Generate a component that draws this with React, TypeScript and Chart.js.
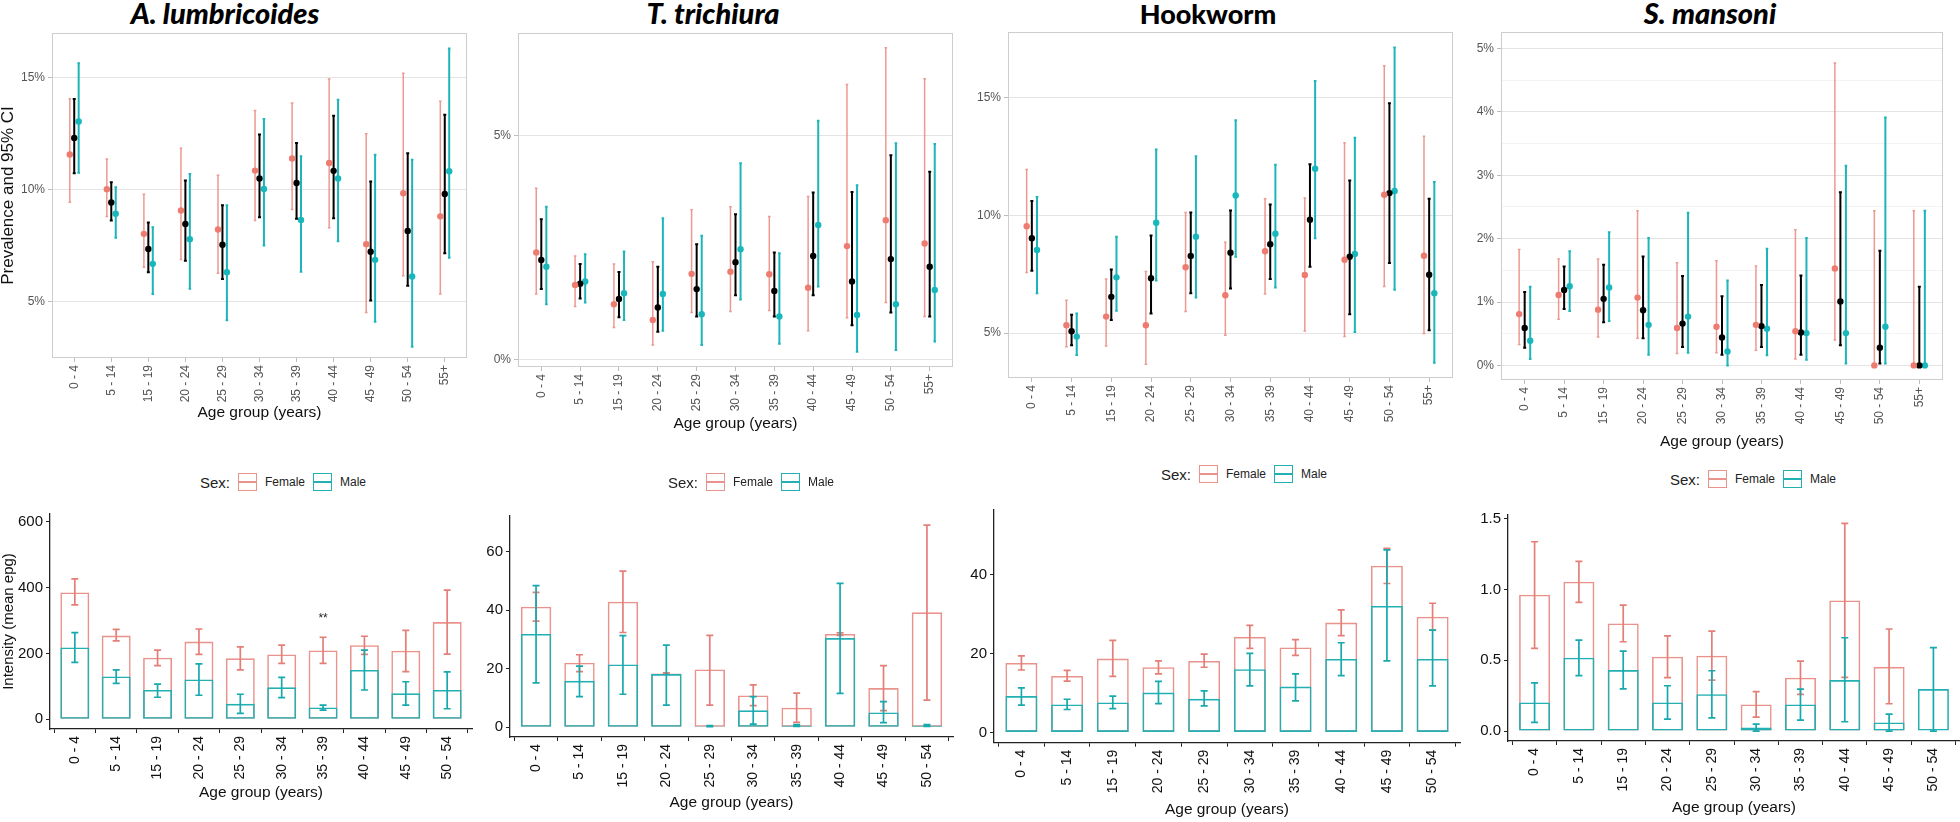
import React, { useEffect, useRef } from 'react';
import { Chart, registerables } from 'chart.js';

Chart.register(...registerables);

// ---------------- DATA ----------------
const AGE_GROUPS_PREV = ['0 - 4', '5 - 14', '15 - 19', '20 - 24', '25 - 29', '30 - 34', '35 - 39', '40 - 44', '45 - 49', '50 - 54', '55+'];
const AGE_GROUPS_INT = ['0 - 4', '5 - 14', '15 - 19', '20 - 24', '25 - 29', '30 - 34', '35 - 39', '40 - 44', '45 - 49', '50 - 54'];

const PREV_TICKS_ASC = [5, 10, 15];
const PREV_TICKS_TRI = [0, 5];
const PREV_TICKS_HOOK = [5, 10, 15];
const PREV_TICKS_SCH = [0, 0.5, 1, 1.5, 2, 2.5, 3, 3.5, 4, 4.5, 5];
const INT_TICKS_ASC = [0, 200, 400, 600];
const INT_TICKS_TRI = [0, 20, 40, 60];
const INT_TICKS_HOOK = [0, 20, 40];
const INT_TICKS_SCH = [0, 0.5, 1.0, 1.5];

// A. lumbricoides prevalence (%)
const ASC_PREV_F = [11.58, 10.03, 8.04, 9.08, 8.23, 10.86, 11.40, 11.20, 7.58, 9.85, 8.82];
const ASC_PREV_F_LO = [9.45, 8.81, 6.55, 6.89, 6.28, 8.63, 9.12, 8.31, 4.53, 6.17, 5.36];
const ASC_PREV_F_HI = [14.07, 11.38, 9.81, 11.86, 10.65, 13.54, 13.88, 14.95, 12.50, 15.20, 13.95];
const ASC_PREV_ALL = [12.32, 9.44, 7.36, 8.48, 7.55, 10.51, 10.31, 10.85, 7.24, 8.17, 9.82];
const ASC_PREV_ALL_LO = [10.74, 8.63, 6.33, 6.84, 6.03, 8.78, 8.71, 8.74, 5.07, 5.72, 7.17];
const ASC_PREV_ALL_HI = [14.06, 10.34, 8.54, 10.42, 9.32, 12.47, 12.09, 13.31, 10.37, 11.63, 13.35];
const ASC_PREV_M = [13.05, 8.94, 6.70, 7.80, 6.33, 10.04, 8.66, 10.51, 6.88, 6.14, 10.83];
const ASC_PREV_M_LO = [10.77, 7.86, 5.36, 5.59, 4.18, 7.52, 6.35, 7.71, 4.12, 3.00, 6.97];
const ASC_PREV_M_HI = [15.65, 10.12, 8.33, 10.71, 9.32, 13.16, 11.50, 14.02, 11.57, 11.34, 16.31];

// T. trichiura prevalence (%)
const TRI_PREV_F = [2.40, 1.67, 1.24, 0.89, 1.92, 1.97, 1.91, 1.61, 2.54, 3.12, 2.60];
const TRI_PREV_F_LO = [1.47, 1.19, 0.72, 0.33, 1.06, 1.08, 1.10, 0.65, 0.94, 1.28, 0.97];
const TRI_PREV_F_HI = [3.83, 2.32, 2.14, 2.19, 3.35, 3.42, 3.20, 3.65, 6.15, 6.97, 6.28];
const TRI_PREV_ALL = [2.23, 1.70, 1.36, 1.17, 1.58, 2.18, 1.54, 2.32, 1.75, 2.25, 2.08];
const TRI_PREV_ALL_LO = [1.58, 1.37, 0.95, 0.63, 0.97, 1.44, 0.97, 1.44, 0.77, 1.06, 0.97];
const TRI_PREV_ALL_HI = [3.14, 2.14, 1.96, 2.08, 2.58, 3.25, 2.40, 3.74, 3.75, 4.57, 4.20];
const TRI_PREV_M = [2.08, 1.75, 1.49, 1.47, 1.02, 2.47, 0.97, 3.01, 1.00, 1.24, 1.56];
const TRI_PREV_M_LO = [1.24, 1.28, 0.89, 0.65, 0.33, 1.35, 0.36, 1.64, 0.18, 0.22, 0.41];
const TRI_PREV_M_HI = [3.42, 2.36, 2.42, 3.16, 2.77, 4.39, 2.38, 5.34, 3.90, 4.84, 4.82];

// Hookworm prevalence (%)
const HOOK_PREV_F = [9.54, 5.33, 5.70, 5.33, 7.80, 6.61, 8.48, 7.47, 8.12, 10.88, 8.29];
const HOOK_PREV_F_LO = [7.58, 4.42, 4.45, 3.67, 5.92, 4.91, 6.66, 5.09, 4.85, 6.98, 4.98];
const HOOK_PREV_F_HI = [11.95, 6.40, 7.30, 7.62, 10.13, 8.86, 10.71, 10.74, 13.09, 16.37, 13.37];
const HOOK_PREV_ALL = [9.03, 5.08, 6.54, 7.33, 8.28, 8.42, 8.78, 9.82, 8.25, 10.95, 7.48];
const HOOK_PREV_ALL_LO = [7.65, 4.48, 5.56, 5.83, 6.69, 6.90, 7.30, 7.82, 5.80, 7.98, 5.12];
const HOOK_PREV_ALL_HI = [10.61, 5.78, 7.70, 9.15, 10.13, 10.21, 10.47, 12.18, 11.49, 14.77, 10.71];
const HOOK_PREV_M = [8.53, 4.85, 7.37, 9.69, 9.10, 10.85, 9.22, 11.99, 8.36, 11.04, 6.69];
const HOOK_PREV_M_LO = [6.69, 4.07, 5.95, 7.23, 6.51, 8.25, 6.94, 9.03, 5.05, 6.84, 3.74];
const HOOK_PREV_M_HI = [10.78, 5.83, 9.10, 12.80, 12.52, 14.05, 12.16, 15.72, 13.30, 17.14, 11.42];

// S. mansoni prevalence (%)
const SCH_PREV_F = [0.81, 1.11, 0.88, 1.07, 0.59, 0.61, 0.64, 0.54, 1.53, 0, 0];
const SCH_PREV_F_LO = [0.33, 0.73, 0.45, 0.43, 0.19, 0.20, 0.24, 0.10, 0.40, 0, 0];
const SCH_PREV_F_HI = [1.83, 1.68, 1.68, 2.44, 1.62, 1.65, 1.57, 2.14, 4.77, 2.44, 2.44];
const SCH_PREV_ALL = [0.59, 1.19, 1.05, 0.87, 0.66, 0.44, 0.62, 0.52, 1.01, 0.28, 0];
const SCH_PREV_ALL_LO = [0.28, 0.89, 0.68, 0.43, 0.29, 0.17, 0.29, 0.17, 0.32, 0.03, 0];
const SCH_PREV_ALL_HI = [1.16, 1.56, 1.59, 1.72, 1.41, 1.09, 1.27, 1.42, 2.73, 1.81, 1.24];
const SCH_PREV_M = [0.39, 1.25, 1.23, 0.64, 0.77, 0.22, 0.58, 0.51, 0.51, 0.61, 0];
const SCH_PREV_M_LO = [0.10, 0.86, 0.70, 0.17, 0.20, 0.0, 0.16, 0.09, 0.03, 0.03, 0];
const SCH_PREV_M_HI = [1.24, 1.80, 2.10, 2.01, 2.41, 1.34, 1.84, 2.01, 3.15, 3.91, 2.44];

// Intensity (mean epg)
const ASC_INT_F = [385, 254, 187, 236, 185, 197, 209, 225, 208, 295];
const ASC_INT_F_LO = [347, 238, 163, 197, 150, 170, 170, 197, 145, 198];
const ASC_INT_F_HI = [426, 273, 210, 274, 220, 225, 249, 252, 270, 392];
const ASC_INT_M = [218, 130, 89, 121, 47, 97, 36, 150, 79, 89];
const ASC_INT_M_LO = [173, 109, 67, 73, 18, 66, 28, 89, 43, 32];
const ASC_INT_M_HI = [263, 150, 107, 168, 76, 127, 43, 210, 114, 144];
const ASC_INT_SIG = ['', '', '', '', '', '', '**', '', '', ''];

const TRI_INT_F = [41.2, 22.1, 42.9, 18.4, 19.8, 10.9, 6.7, 31.9, 13.4, 39.3];
const TRI_INT_F_LO = [36.3, 19.0, 32.4, 18.2, 7.6, 7.4, 1.7, 31.4, 5.7, 9.3];
const TRI_INT_F_HI = [46.1, 24.8, 53.4, 18.6, 31.4, 14.5, 11.7, 32.3, 21.1, 69.1];
const TRI_INT_M = [31.9, 15.9, 21.5, 18.2, 0.4, 5.8, 0.6, 30.5, 5.1, 0.6];
const TRI_INT_M_LO = [15.2, 10.5, 11.3, 7.6, 0.2, 1.1, 0.3, 11.6, 1.6, 0.3];
const TRI_INT_M_HI = [48.4, 20.9, 31.3, 28.1, 0.6, 10.5, 0.9, 49.2, 8.8, 0.9];

const HOOK_INT_F = [17.6, 14.3, 18.7, 16.5, 18.1, 24.2, 21.5, 27.8, 42.2, 29.3];
const HOOK_INT_F_LO = [15.8, 13.0, 14.2, 14.8, 16.5, 21.3, 19.5, 24.5, 37.7, 25.9];
const HOOK_INT_F_HI = [19.4, 15.7, 23.3, 18.1, 19.8, 27.1, 23.5, 31.0, 46.6, 32.7];
const HOOK_INT_M = [9.2, 7.1, 7.6, 10.1, 8.5, 16.0, 11.6, 18.6, 32.0, 18.6];
const HOOK_INT_M_LO = [6.9, 5.8, 6.0, 7.3, 6.7, 11.8, 8.0, 14.4, 18.1, 11.8];
const HOOK_INT_M_HI = [11.3, 8.4, 9.2, 12.9, 10.5, 20.0, 14.8, 22.7, 46.2, 25.9];

const SCH_INT_F = [0.963, 1.055, 0.760, 0.525, 0.532, 0.188, 0.377, 0.923, 0.454, null];
const SCH_INT_F_LO = [0.584, 0.909, 0.631, 0.377, 0.360, 0.099, 0.259, 0.379, 0.193, null];
const SCH_INT_F_HI = [1.337, 1.198, 0.890, 0.673, 0.706, 0.278, 0.494, 1.467, 0.721, null];
const SCH_INT_M = [0.202, 0.518, 0.431, 0.202, 0.261, 0.026, 0.188, 0.360, 0.061, 0.297];
const SCH_INT_M_LO = [0.061, 0.391, 0.298, 0.085, 0.094, 0.0, 0.078, 0.066, 0.0, 0.0];
const SCH_INT_M_HI = [0.341, 0.643, 0.565, 0.320, 0.426, 0.049, 0.297, 0.659, 0.120, 0.589];

// ---------------- STYLE ----------------
const FONT = '"Liberation Sans", Arial, Helvetica, sans-serif';
const HEAD_FONT = 'Lato, "Open Sans", "Liberation Sans", sans-serif';
const C_F_DOT = '#EE7B70';
const C_F_ERR = 'rgba(232,128,118,0.8)';
const C_ALL = '#000000';
const C_M_DOT = '#17B7BB';
const C_M_ERR = '#1DB5B9';
const C_F_BAR = 'rgba(230,128,120,0.85)';
const C_M_BAR = '#22B0B3';
const C_F_IERR = '#E47F78';
const C_M_IERR = '#17A9AD';

type Geo = { cl: number; ct: number; cw: number; ch: number; l: number; t: number; r: number; b: number; yTitleX?: number; xTitleY?: number };

function layoutFor(g: Geo, yTitleSize: number, xTitleSize: number) {
  const padLeft = g.yTitleX != null ? Math.max(0, g.yTitleX - yTitleSize / 2 - g.cl) : 0;
  const yW = g.l - g.cl - padLeft;
  const padTop = g.t - g.ct;
  const padRight = g.cl + g.cw - g.r;
  let xH: number;
  let padBottom: number;
  if (g.xTitleY != null) {
    xH = g.xTitleY + xTitleSize / 2 - g.b;
    padBottom = g.ct + g.ch - (g.b + xH);
  } else {
    xH = g.ct + g.ch - g.b;
    padBottom = 0;
  }
  return { padding: { left: padLeft, top: padTop, right: padRight, bottom: Math.max(0, padBottom) }, yW, xH };
}

// ---------------- PLUGINS ----------------
function drawErr(chart: any, i: number, phase: string) {
  const ds: any = chart.data.datasets[i];
  if (!ds || !ds.errLo || ds.errPhase !== phase) return;
  const meta = chart.getDatasetMeta(i);
  const ys = chart.scales.y;
  const ctx = chart.ctx;
  ctx.save();
  ctx.strokeStyle = ds.errColor;
  ctx.lineWidth = ds.errWidth;
  ctx.lineCap = 'butt';
  meta.data.forEach((el: any, j: number) => {
    const lo = ds.errLo[j];
    const hi = ds.errHi[j];
    if (lo == null || hi == null) return;
    const x = el.x;
    const y1 = ys.getPixelForValue(lo);
    const y2 = ys.getPixelForValue(hi);
    const c = ds.capHalf;
    ctx.beginPath();
    ctx.moveTo(x, y1);
    ctx.lineTo(x, y2);
    ctx.moveTo(x - c, y1);
    ctx.lineTo(x + c, y1);
    ctx.moveTo(x - c, y2);
    ctx.lineTo(x + c, y2);
    ctx.stroke();
  });
  if (ds.sig) {
    ctx.fillStyle = '#222';
    ctx.font = `12px ${FONT}`;
    ctx.textAlign = 'center';
    ctx.textBaseline = 'middle';
    meta.data.forEach((el: any, j: number) => {
      const s = ds.sig[j];
      if (!s) return;
      ctx.fillText(s, el.x, ys.getPixelForValue(ds.errHi[j]) - 19);
    });
  }
  ctx.restore();
}

const errorBarPlugin = {
  id: 'errbars',
  beforeDatasetDraw(chart: any, args: any) { drawErr(chart, args.index, 'before'); },
  afterDatasetDraw(chart: any, args: any) { drawErr(chart, args.index, 'after'); },
};

const framePlugin = {
  id: 'frame',
  beforeDatasetsDraw(chart: any, _a: any, opts: any) {
    if (!opts || !opts.color) return;
    const { left, top, right, bottom } = chart.chartArea;
    const ctx = chart.ctx;
    ctx.save();
    ctx.strokeStyle = opts.color;
    ctx.lineWidth = 1;
    ctx.strokeRect(Math.round(left) + 0.5, Math.round(top) + 0.5, Math.round(right - left) - 1, Math.round(bottom - top) - 1);
    ctx.restore();
  },
};

// ---------------- PANEL SPECS ----------------
type PrevSpec = {
  key: string; geo: Geo; yMin: number; yMax: number; ticks: number[]; dodge: number; yTitle?: string;
  f: number[]; fLo: number[]; fHi: number[]; a: number[]; aLo: number[]; aHi: number[]; m: number[]; mLo: number[]; mHi: number[];
};

const PREV_PANELS: PrevSpec[] = [
  { key: 'asc', geo: { cl: 0, ct: 0, cw: 490, ch: 430, l: 52, t: 33, r: 467, b: 358, yTitleX: 8.5, xTitleY: 413 }, yMin: 2.5, yMax: 17.0, ticks: PREV_TICKS_ASC, dodge: 0.12, yTitle: 'Prevalence and 95% CI',
    f: ASC_PREV_F, fLo: ASC_PREV_F_LO, fHi: ASC_PREV_F_HI, a: ASC_PREV_ALL, aLo: ASC_PREV_ALL_LO, aHi: ASC_PREV_ALL_HI, m: ASC_PREV_M, mLo: ASC_PREV_M_LO, mHi: ASC_PREV_M_HI },
  { key: 'tri', geo: { cl: 485, ct: 0, cw: 480, ch: 440, l: 518, t: 33, r: 953, b: 367, xTitleY: 424 }, yMin: -0.16, yMax: 7.3, ticks: PREV_TICKS_TRI, dodge: 0.13,
    f: TRI_PREV_F, fLo: TRI_PREV_F_LO, fHi: TRI_PREV_F_HI, a: TRI_PREV_ALL, aLo: TRI_PREV_ALL_LO, aHi: TRI_PREV_ALL_HI, m: TRI_PREV_M, mLo: TRI_PREV_M_LO, mHi: TRI_PREV_M_HI },
  { key: 'hook', geo: { cl: 965, ct: 0, cw: 495, ch: 423, l: 1008, t: 32, r: 1453, b: 378 }, yMin: 3.09, yMax: 17.8, ticks: PREV_TICKS_HOOK, dodge: 0.13,
    f: HOOK_PREV_F, fLo: HOOK_PREV_F_LO, fHi: HOOK_PREV_F_HI, a: HOOK_PREV_ALL, aLo: HOOK_PREV_ALL_LO, aHi: HOOK_PREV_ALL_HI, m: HOOK_PREV_M, mLo: HOOK_PREV_M_LO, mHi: HOOK_PREV_M_HI },
  { key: 'sch', geo: { cl: 1465, ct: 0, cw: 495, ch: 458, l: 1501, t: 32, r: 1943, b: 380, xTitleY: 442 }, yMin: -0.23, yMax: 5.26, ticks: PREV_TICKS_SCH, dodge: 0.14,
    f: SCH_PREV_F, fLo: SCH_PREV_F_LO, fHi: SCH_PREV_F_HI, a: SCH_PREV_ALL, aLo: SCH_PREV_ALL_LO, aHi: SCH_PREV_ALL_HI, m: SCH_PREV_M, mLo: SCH_PREV_M_LO, mHi: SCH_PREV_M_HI },
];

type IntSpec = {
  key: string; geo: Geo; yMin: number; yMax: number; ticks: number[]; decimals: number; yTitle?: string;
  f: (number | null)[]; fLo: (number | null)[]; fHi: (number | null)[]; m: number[]; mLo: number[]; mHi: number[]; sig?: string[];
  legendX: number; legendY: number;
};

const INT_PANELS: IntSpec[] = [
  { key: 'asc', geo: { cl: 0, ct: 495, cw: 490, ch: 327, l: 50, t: 514, r: 472, b: 729, yTitleX: 9, xTitleY: 793 }, yMin: -29.4, yMax: 623, ticks: INT_TICKS_ASC, decimals: 0, yTitle: 'Intensity (mean epg)',
    f: ASC_INT_F, fLo: ASC_INT_F_LO, fHi: ASC_INT_F_HI, m: ASC_INT_M, mLo: ASC_INT_M_LO, mHi: ASC_INT_M_HI, sig: ASC_INT_SIG, legendX: 200, legendY: 482 },
  { key: 'tri', geo: { cl: 485, ct: 495, cw: 480, ch: 327, l: 510, t: 516, r: 953, b: 737, xTitleY: 803 }, yMin: -3.3, yMax: 72.2, ticks: INT_TICKS_TRI, decimals: 0,
    f: TRI_INT_F, fLo: TRI_INT_F_LO, fHi: TRI_INT_F_HI, m: TRI_INT_M, mLo: TRI_INT_M_LO, mHi: TRI_INT_M_HI, legendX: 668, legendY: 482 },
  { key: 'hook', geo: { cl: 958, ct: 490, cw: 510, ch: 332, l: 994, t: 510, r: 1460, b: 742.7, xTitleY: 810 }, yMin: -2.6, yMax: 56.3, ticks: INT_TICKS_HOOK, decimals: 0,
    f: HOOK_INT_F, fLo: HOOK_INT_F_LO, fHi: HOOK_INT_F_HI, m: HOOK_INT_M, mLo: HOOK_INT_M_LO, mHi: HOOK_INT_M_HI, legendX: 1161, legendY: 474 },
  { key: 'sch', geo: { cl: 1470, ct: 495, cw: 490, ch: 327, l: 1508, t: 515, r: 1960, b: 741, xTitleY: 808 }, yMin: -0.07, yMax: 1.526, ticks: INT_TICKS_SCH, decimals: 1,
    f: SCH_INT_F, fLo: SCH_INT_F_LO, fHi: SCH_INT_F_HI, m: SCH_INT_M, mLo: SCH_INT_M_LO, mHi: SCH_INT_M_HI, legendX: 1670, legendY: 479 },
];

const HEADINGS = [
  { text: 'A. lumbricoides', cx: 225, italic: true },
  { text: 'T. trichiura', cx: 713, italic: true },
  { text: 'Hookworm', cx: 1208, italic: false },
  { text: 'S. mansoni', cx: 1710, italic: true },
];

// ---------------- CONFIG BUILDERS ----------------
const Y_TITLE_SIZE_TOP = 17;
const X_TITLE_SIZE = 15.5;
const Y_TITLE_SIZE_BOT = 15;

function prevConfig(p: PrevSpec): any {
  const L = layoutFor(p.geo, Y_TITLE_SIZE_TOP, X_TITLE_SIZE);
  const cats = AGE_GROUPS_PREV;
  const mk = (label: string, vals: number[], lo: number[], hi: number[], dx: number, color: string, errColor: string, errW: number, cap: number, r: number) => ({
    label,
    data: vals.map((v, i) => ({ x: i + dx, y: v })),
    pointRadius: r, pointHoverRadius: r, pointBorderWidth: 0,
    pointBackgroundColor: color, backgroundColor: color, borderColor: color,
    errLo: lo, errHi: hi, errColor, errWidth: errW, capHalf: cap, errPhase: 'before',
  });
  const isMinor = (v: number) => Math.abs(v - Math.round(v)) > 1e-6;
  return {
    type: 'scatter',
    data: {
      datasets: [
        mk('Female', p.f, p.fLo, p.fHi, -p.dodge, C_F_DOT, C_F_ERR, 1.5, 1.3, 3.2),
        mk('Overall', p.a, p.aLo, p.aHi, 0, C_ALL, C_ALL, 2, 1.5, 3.2),
        mk('Male', p.m, p.mLo, p.mHi, p.dodge, C_M_DOT, C_M_ERR, 2, 1.3, 3.2),
      ],
    },
    options: {
      responsive: false,
      animation: false,
      events: [],
      layout: { padding: L.padding },
      plugins: { legend: { display: false }, tooltip: { enabled: false }, frame: { color: '#cdcdcd' } },
      scales: {
        x: {
          type: 'linear', min: -0.6, max: cats.length - 0.4, bounds: 'data',
          afterBuildTicks: (ax: any) => { ax.ticks = cats.map((_, i) => ({ value: i })); },
          afterFit: (s: any) => { s.height = L.xH; },
          ticks: { callback: (v: any) => cats[Math.round(v)], minRotation: 90, maxRotation: 90, autoSkip: false, color: '#555555', font: { size: 12, family: FONT }, padding: 3 },
          grid: { drawOnChartArea: false, drawTicks: true, tickLength: 4, tickColor: '#bdbdbd' },
          border: { display: false },
          title: { display: p.geo.xTitleY != null, text: 'Age group (years)', color: '#111', font: { size: X_TITLE_SIZE, family: FONT, lineHeight: 1 }, padding: 0 },
        },
        y: {
          type: 'linear', min: p.yMin, max: p.yMax, bounds: 'data',
          afterBuildTicks: (ax: any) => { ax.ticks = p.ticks.map((v) => ({ value: v })); },
          afterFit: (s: any) => { s.width = L.yW; },
          ticks: { callback: (v: any) => (isMinor(v) ? '' : `${v}%`), color: '#555555', font: { size: 12, family: FONT }, padding: 3, autoSkip: false },
          grid: {
            color: (c: any) => (c.tick && isMinor(c.tick.value) ? '#f3f3f3' : '#e4e4e4'),
            tickColor: (c: any) => (c.tick && isMinor(c.tick.value) ? 'rgba(0,0,0,0)' : '#bdbdbd'),
            tickLength: 4, lineWidth: 1,
          },
          border: { display: false },
          title: { display: !!p.yTitle, text: p.yTitle || '', color: '#111', font: { size: Y_TITLE_SIZE_TOP, family: FONT, lineHeight: 1 }, padding: 0 },
        },
      },
    },
    plugins: [errorBarPlugin, framePlugin],
  };
}

function intConfig(p: IntSpec): any {
  const L = layoutFor(p.geo, Y_TITLE_SIZE_BOT, X_TITLE_SIZE);
  const cats = AGE_GROUPS_INT;
  const mk = (label: string, vals: (number | null)[], lo: (number | null)[], hi: (number | null)[], color: string, errColor: string, order: number, sig?: string[]) => ({
    label,
    data: vals.map((v, i) => ({ x: i, y: v })),
    backgroundColor: 'rgba(0,0,0,0)', borderColor: color, borderWidth: 1.6, borderSkipped: false,
    grouped: false, barPercentage: 0.7, categoryPercentage: 1,
    errLo: lo, errHi: hi, errColor, errWidth: 1.7, capHalf: 3.5, errPhase: 'after', sig, order,
  });
  return {
    type: 'bar',
    data: {
      datasets: [
        mk('Female', p.f, p.fLo, p.fHi, C_F_BAR, C_F_IERR, 2, p.sig),
        mk('Male', p.m, p.mLo, p.mHi, C_M_BAR, C_M_IERR, 1),
      ],
    },
    options: {
      responsive: false,
      animation: false,
      events: [],
      layout: { padding: L.padding },
      plugins: { legend: { display: false }, tooltip: { enabled: false } },
      scales: {
        x: {
          type: 'linear', min: -0.6, max: cats.length - 0.4, bounds: 'data', offset: false,
          afterBuildTicks: (ax: any) => { ax.ticks = cats.map((_, i) => ({ value: i })); },
          afterFit: (s: any) => { s.height = L.xH; },
          ticks: { callback: (v: any) => cats[Math.round(v)], minRotation: 90, maxRotation: 90, autoSkip: false, color: '#111', font: { size: 14, family: FONT }, padding: 3 },
          grid: { drawOnChartArea: false, drawTicks: true, tickLength: 4, tickColor: '#222' },
          border: { display: true, color: '#222', width: 1.3 },
          title: { display: true, text: 'Age group (years)', color: '#111', font: { size: X_TITLE_SIZE, family: FONT, lineHeight: 1 }, padding: 0 },
        },
        y: {
          type: 'linear', min: p.yMin, max: p.yMax, bounds: 'data',
          afterBuildTicks: (ax: any) => { ax.ticks = p.ticks.map((v) => ({ value: v })); },
          afterFit: (s: any) => { s.width = L.yW; },
          ticks: { callback: (v: any) => Number(v).toFixed(p.decimals), color: '#111', font: { size: 15, family: FONT }, padding: 3, autoSkip: false },
          grid: { drawOnChartArea: false, drawTicks: true, tickLength: 4, tickColor: '#222' },
          border: { display: true, color: '#222', width: 1.3 },
          title: { display: !!p.yTitle, text: p.yTitle || '', color: '#111', font: { size: Y_TITLE_SIZE_BOT, family: FONT, lineHeight: 1 }, padding: 0 },
        },
      },
    },
    plugins: [errorBarPlugin],
  };
}

// ---------------- COMPONENTS ----------------
function ChartCanvas({ geo, build }: { geo: Geo; build: () => any }) {
  const ref = useRef<HTMLCanvasElement>(null);
  useEffect(() => {
    const chart = new Chart(ref.current as HTMLCanvasElement, build());
    return () => chart.destroy();
  }, []);
  return (
    <canvas
      ref={ref}
      width={geo.cw}
      height={geo.ch}
      style={{ position: 'absolute', left: geo.cl, top: geo.ct, width: geo.cw, height: geo.ch }}
    />
  );
}

function LegendKey({ color }: { color: string }) {
  return (
    <div style={{ position: 'relative', width: 19, height: 18, border: `1.5px solid ${color}`, boxSizing: 'border-box' }}>
      <div style={{ position: 'absolute', left: 0, right: 0, top: 7, height: 1.5, background: color }} />
    </div>
  );
}

function Legend({ x, y }: { x: number; y: number }) {
  return (
    <div style={{ position: 'absolute', left: x, top: y - 11, height: 22, display: 'flex', alignItems: 'center', fontFamily: FONT, color: '#222', whiteSpace: 'nowrap' }}>
      <span style={{ fontSize: 15, marginRight: 8 }}>Sex:</span>
      <LegendKey color={C_F_BAR} />
      <span style={{ fontSize: 12, marginLeft: 8, marginRight: 8 }}>Female</span>
      <LegendKey color={C_M_BAR} />
      <span style={{ fontSize: 12, marginLeft: 8 }}>Male</span>
    </div>
  );
}

export default function App() {
  return (
    <div style={{ position: 'absolute', left: 0, top: 0, width: 1960, height: 822, overflow: 'hidden', background: '#ffffff' }}>
      {HEADINGS.map((h) => (
        <div
          key={h.text}
          style={{
            position: 'absolute', left: h.cx - 200, width: 400, top: h.italic ? -2 : -1, textAlign: 'center',
            fontFamily: HEAD_FONT, fontWeight: 900, fontStyle: h.italic ? 'italic' : 'normal', fontSize: h.italic ? 29 : 27,
            lineHeight: '30px', color: '#000',
          }}
        >
          {h.text}
        </div>
      ))}
      {PREV_PANELS.map((p) => (
        <ChartCanvas key={`prev-${p.key}`} geo={p.geo} build={() => prevConfig(p)} />
      ))}
      {INT_PANELS.map((p) => (
        <ChartCanvas key={`int-${p.key}`} geo={p.geo} build={() => intConfig(p)} />
      ))}
      {INT_PANELS.map((p) => (
        <Legend key={`leg-${p.key}`} x={p.legendX} y={p.legendY} />
      ))}
    </div>
  );
}
